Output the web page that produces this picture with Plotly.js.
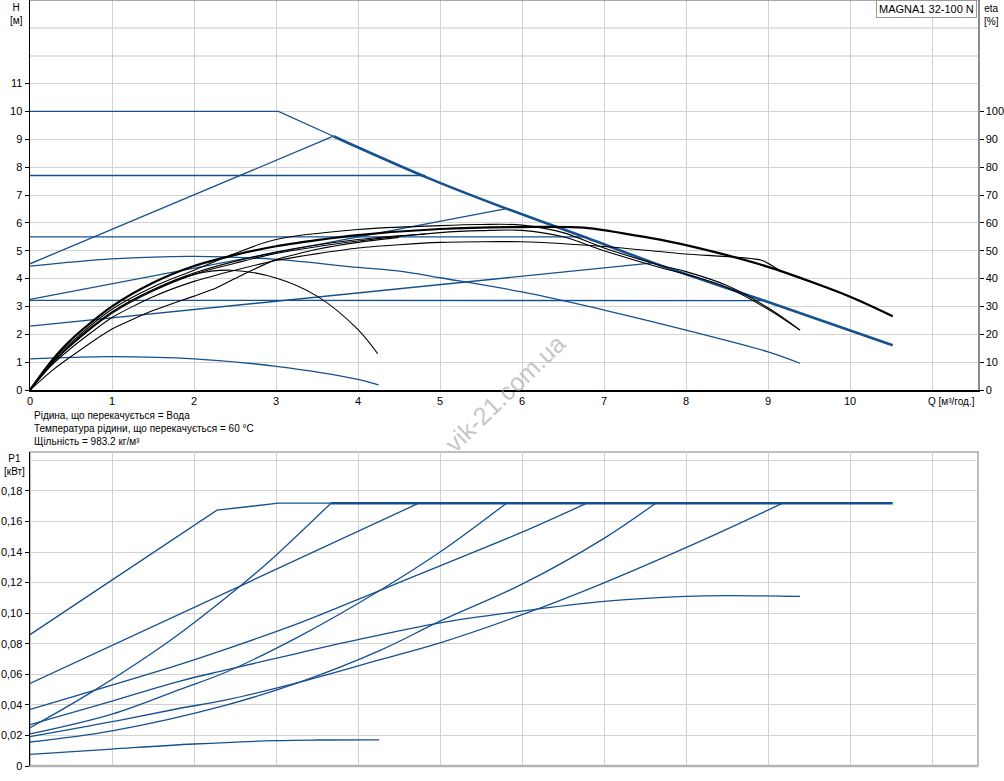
<!DOCTYPE html>
<html><head><meta charset="utf-8">
<script src="https://cdn.plot.ly/plotly-3.0.1.min.js"></script>
<style>html,body{margin:0;padding:0;background:#fff}#chart{width:1004px;height:781px}</style>
</head><body><div id="chart"></div>
<script>
// ---------- Top plot: H-Q curves (H in m) ----------
const qMax   = [0, 3.03, 3.7, 3.9, 4.88, 5.81, 6.77, 7.68, 9.0, 10.52];
const hMax   = [10, 10, 9.11, 8.84, 7.58, 6.51, 5.48, 4.48, 3.16, 1.61];
const qPPHigh = [0, 3.7];   const hPPHigh = [4.53, 9.11];
const qCP77  = [0, 4.82];   const hCP77  = [7.7, 7.7];
const qCP55  = [0, 6.75];   const hCP55  = [5.5, 5.5];
const qPPMid = [0, 5.81];   const hPPMid = [3.25, 6.51];
const qCP32  = [0, 8.95];   const hCP32  = [3.22, 3.21];
const qPPLow = [0, 7.6];    const hPPLow = [2.29, 4.56];
const qConst = [0, 1, 2, 3, 4, 4.51, 5, 6, 7, 8, 9, 9.39];
const hConst = [4.45, 4.71, 4.8, 4.69, 4.4, 4.27, 4.03, 3.52, 2.87, 2.15, 1.37, 0.96];
const qMin   = [0, 0.5, 1, 2, 3, 4, 4.25];
const hMin   = [1.12, 1.17, 1.2, 1.12, 0.85, 0.38, 0.18];

// ---------- Top plot: efficiency curves (eta in %) ----------
const qEtaMax = [0, 0.25, 0.5, 1, 1.5, 2, 2.5, 3, 3.5, 4, 5, 6, 6.75, 7.56, 8, 9, 10, 10.52];
const etaMax  = [0, 10, 18, 30, 38.5, 44.5, 48.5, 51.6, 53.8, 55.6, 57.8, 58.5, 58.3, 54.6, 52, 44.2, 33.5, 26.5];
const qEtaA = [0, 0.25, 0.5, 1, 1.5, 2, 2.5, 3, 4, 5, 5.5, 6, 6.5, 7, 7.68, 8, 8.5, 9, 9.39];
const etaA  = [0, 9.5, 17, 29, 37, 43, 49, 54, 57.6, 59, 59.4, 59.2, 56.5, 51, 44.8, 42.5, 37.5, 29.5, 21.5];
const qEtaB = [0, 0.25, 0.5, 1, 1.5, 2, 2.5, 3, 4, 5, 5.5, 6, 6.5, 7, 7.68, 8, 8.5, 9, 9.39];
const etaB  = [0, 9, 16, 27.5, 35.5, 41.5, 45.5, 49, 53.5, 56.5, 57.2, 57.3, 55, 50, 44, 41.5, 36.8, 29, 21.5];
const qEtaCP32 = [0, 0.25, 0.5, 1, 1.5, 2, 2.5, 3, 4, 5, 6, 7, 8, 8.92, 9.17, 10, 10.52];
const etaCP32  = [0, 8.5, 15, 26, 33.5, 39, 43, 46.5, 51, 53, 53.2, 51.5, 48.8, 46.6, 42.6, 33.5, 26.5];
const qEtaMin = [0, 0.25, 0.5, 1, 1.5, 2, 2.45, 3, 3.5, 4, 4.24];
const etaMin  = [0, 9, 16, 28, 36, 41.5, 43, 40.2, 33.7, 21.7, 13];
const qEtaKink = [0, 0.25, 0.5, 1, 1.5, 2, 2.27, 2.6, 3, 3.5, 4, 4.5];
const etaKink  = [0, 6.5, 12, 21.9, 28.5, 33.7, 36.6, 41.5, 46.8, 50.5, 53, 54.8];
const qEtaD = [0, 0.25, 0.5, 1, 1.5, 2, 3, 4, 4.82];
const etaD  = [0, 9, 16.5, 28, 36, 42, 49.5, 54, 56];

// ---------- Bottom plot: P1 curves (kW) ----------
const qPMax = [0, 2.28, 3.03, 3.67, 10.52];
const pMax  = [0.086, 0.1674, 0.172, 0.172, 0.172];
const qPPPHigh = [0, 0.77, 1.73, 2.58, 2.93, 3.67];
const pPPHigh  = [0.025, 0.049, 0.083, 0.1185, 0.1345, 0.172];
const qPCP77 = [0, 4.74];  const pCP77 = [0.054, 0.172];
const qPCP55 = [0, 1.83, 2.38, 3.29, 4.27, 5, 6, 6.79];
const pCP55  = [0.037, 0.0665, 0.0763, 0.0937, 0.115, 0.131, 0.153, 0.172];
const qPPPMid = [0, 1, 1.83, 2.38, 3.29, 4.27, 5, 5.81];
const pPPMid  = [0.021, 0.034, 0.0502, 0.0612, 0.085, 0.115, 0.14, 0.172];
const qPConst = [0, 1, 1.83, 2.38, 3.29, 3.9, 5, 6.14, 7, 8, 8.5, 9.39];
const pConst  = [0.027, 0.0425, 0.0556, 0.0627, 0.0741, 0.0815, 0.0937, 0.1024, 0.1078, 0.111, 0.1115, 0.111];
const qPCP32 = [0, 1, 1.83, 2.38, 3.29, 4.27, 5, 6, 7, 8.17, 9.18];
const pCP32  = [0.0192, 0.029, 0.0378, 0.0431, 0.0549, 0.0696, 0.0806, 0.099, 0.1199, 0.147, 0.172];
const qPPPLow = [0, 1, 2.38, 3.29, 4.27, 5, 6, 7, 7.63];
const pPPLow  = [0.0157, 0.023, 0.0397, 0.0549, 0.0757, 0.0948, 0.119, 0.149, 0.172];
const qPMin = [0, 1, 2, 3, 3.5, 4.26];
const pMin  = [0.0076, 0.0111, 0.0144, 0.0166, 0.0170, 0.0171];

// ---------- Tick labels ----------
const qTicks = [0,1,2,3,4,5,6,7,8,9,10];
const hTicks = [0,1,2,3,4,5,6,7,8,9,10,11];
const etaTicks = [0,10,20,30,40,50,60,70,80,90,100];
const pTicks = [0,0.02,0.04,0.06,0.08,0.10,0.12,0.14,0.16,0.18];
const pTickText = ['0','0,02','0,04','0,06','0,08','0,10','0,12','0,14','0,16','0,18'];

const BLUE = '#15508f';
const BLACK = '#000000';
const traces = [];
function add(x, y, color, width, xa, ya, smooth) {
  const line = {color: color, width: width};
  if (smooth) { line.shape = 'spline'; line.smoothing = smooth; }
  traces.push({x: x, y: y, type: 'scatter', mode: 'lines', xaxis: xa, yaxis: ya,
    line: line, hoverinfo: 'skip', showlegend: false});
}
// H curves
add(qMax.slice(0,3), hMax.slice(0,3), BLUE, 1.3, 'x', 'y');
add(qMax.slice(2), hMax.slice(2), BLUE, 2.6, 'x', 'y', 0.6);
add(qPPHigh, hPPHigh, BLUE, 1.3, 'x', 'y');
add(qCP77, hCP77, BLUE, 1.3, 'x', 'y');
add(qCP55, hCP55, BLUE, 1.3, 'x', 'y');
add(qPPMid, hPPMid, BLUE, 1.3, 'x', 'y');
add(qCP32, hCP32, BLUE, 1.3, 'x', 'y');
add(qPPLow, hPPLow, BLUE, 1.3, 'x', 'y');
add(qConst, hConst, BLUE, 1.3, 'x', 'y', 1);
add(qMin, hMin, BLUE, 1.3, 'x', 'y', 1);
// eta curves
add(qEtaA, etaA, BLACK, 1.1, 'x', 'y2', 1);
add(qEtaB, etaB, BLACK, 1.1, 'x', 'y2', 1);
add(qEtaCP32, etaCP32, BLACK, 1.1, 'x', 'y2', 0.6);
add(qEtaMin, etaMin, BLACK, 1.1, 'x', 'y2', 1);
add(qEtaKink, etaKink, BLACK, 1.1, 'x', 'y2', 0.5);
add(qEtaD, etaD, BLACK, 1.1, 'x', 'y2', 1);
add(qEtaMax, etaMax, BLACK, 2.2, 'x', 'y2', 0.8);
// P1 curves
add(qPMax.slice(0,4), pMax.slice(0,4), BLUE, 1.3, 'x2', 'y3');
add(qPMax.slice(3), pMax.slice(3), BLUE, 2.4, 'x2', 'y3');
add(qPPPHigh, pPPHigh, BLUE, 1.3, 'x2', 'y3', 1);
add(qPCP77, pCP77, BLUE, 1.3, 'x2', 'y3');
add(qPCP55, pCP55, BLUE, 1.3, 'x2', 'y3', 1);
add(qPPPMid, pPPMid, BLUE, 1.3, 'x2', 'y3', 1);
add(qPConst, pConst, BLUE, 1.3, 'x2', 'y3', 1);
add(qPCP32, pCP32, BLUE, 1.3, 'x2', 'y3', 1);
add(qPPPLow, pPPLow, BLUE, 1.3, 'x2', 'y3', 1);
add(qPMin, pMin, BLUE, 1.3, 'x2', 'y3', 1);

const FONT = 'Liberation Sans, Arial, sans-serif';
const GRID = '#d2d2d2';
const L = 30, R = 26, T = 0, B = 15, W = 1004, Hh = 781;
const PW = W - L - R, PH = Hh - T - B;
const px = v => (v - L) / PW;
const py = v => (Hh - B - v) / PH;

const layout = {
  width: W, height: Hh,
  margin: {l: L, r: R, t: T, b: B, pad: 0},
  paper_bgcolor: '#fff', plot_bgcolor: '#fff',
  font: {family: FONT, size: 11, color: '#000'},
  showlegend: false,
  xaxis: {domain: [0,1], anchor: 'y', range: [0, 11.56], tickmode: 'array', tickvals: qTicks,
    showgrid: true, gridcolor: GRID, gridwidth: 1, zeroline: false, showline: true,
    linecolor: '#000', linewidth: 1.5, ticks: '', tickfont: {size: 11},
    minor: {tickvals: [11], showgrid: true, gridcolor: GRID, ticks: ''}},
  yaxis: {domain: [py(390), 1], anchor: 'x', range: [0, 14], tickmode: 'array', tickvals: hTicks,
    showgrid: true, gridcolor: GRID, zeroline: false, showline: true, linecolor: '#000', linewidth: 1.5,
    ticks: 'outside', ticklen: 4, tickcolor: '#000', tickfont: {size: 11},
    minor: {tickvals: [12, 13], showgrid: true, gridcolor: '#e2e2e2', gridwidth: 2, ticks: ''}},
  yaxis2: {overlaying: 'y', side: 'right', anchor: 'x', range: [0, 140], tickmode: 'array',
    tickvals: etaTicks, showgrid: false, zeroline: false, showline: true, linecolor: '#8c8c8c',
    linewidth: 1.5, ticks: 'outside', ticklen: 4, tickcolor: '#000', tickfont: {size: 11}},
  xaxis2: {domain: [0,1], anchor: 'y3', range: [0, 11.56], tickmode: 'array',
    tickvals: [1,2,3,4,5,6,7,8,9,10,11], showticklabels: false, showgrid: true, gridcolor: GRID,
    zeroline: false, showline: false, ticks: ''},
  yaxis3: {domain: [0, py(452)], anchor: 'x2', range: [0, 0.2055], tickmode: 'array',
    tickvals: pTicks, ticktext: pTickText, showgrid: true, gridcolor: GRID, zeroline: false,
    showline: true, linecolor: '#000', linewidth: 1.5, ticks: 'outside', ticklen: 4, tickcolor: '#000',
    tickfont: {size: 11},
    minor: {tickvals: [0.20], showgrid: true, gridcolor: GRID, ticks: ''}},
  shapes: [
    {type: 'line', xref: 'x domain', yref: 'y domain', x0: 0, x1: 1, y0: 1, y1: 1,
     line: {color: '#8c8c8c', width: 1.5}},
    {type: 'rect', xref: 'x2 domain', yref: 'y3 domain', x0: 0, x1: 1, y0: 0, y1: 1,
     line: {color: '#a8a8a8', width: 1.5}, layer: 'below'},
    {type: 'line', xref: 'x2 domain', yref: 'y3 domain', x0: 0, x1: 1, y0: 0, y1: 0,
     line: {color: '#b4b4b4', width: 2.5}}
  ],
  annotations: [
    {xref: 'paper', yref: 'paper', x: px(16), y: py(0), xanchor: 'center', yanchor: 'top',
     text: 'H<br>[м]', showarrow: false, font: {size: 10}, align: 'center'},
    {xref: 'paper', yref: 'paper', x: px(992), y: py(1), xanchor: 'center', yanchor: 'top',
     text: 'eta<br>[%]', showarrow: false, font: {size: 10}, align: 'center'},
    {xref: 'paper', yref: 'paper', x: px(14), y: py(451), xanchor: 'center', yanchor: 'top',
     text: 'P1<br>[кВт]', showarrow: false, font: {size: 10}, align: 'center'},
    {xref: 'paper', yref: 'paper', x: px(926), y: py(401), xanchor: 'left', yanchor: 'middle',
     text: 'Q [м³/год.]', showarrow: false, font: {size: 10}},
    {xref: 'paper', yref: 'paper', x: px(32), y: py(408), xanchor: 'left', yanchor: 'top',
     text: 'Рідина, що перекачується = Вода<br>Температура рідини, що перекачується = 60 °C<br>Щільність = 983.2 кг/м³',
     showarrow: false, font: {size: 10}, align: 'left'},
    {xref: 'paper', yref: 'paper', x: px(977), y: py(0), xanchor: 'right', yanchor: 'top',
     text: 'MAGNA1 32-100 N', showarrow: false, font: {size: 11}, bgcolor: '#fff',
     bordercolor: '#9a9a9a', borderwidth: 1, borderpad: 2},
    {xref: 'paper', yref: 'paper', x: px(505), y: py(393), xanchor: 'center', yanchor: 'middle',
     text: 'vik-21.com.ua', showarrow: false, textangle: -44,
     font: {size: 25, color: 'rgba(160,160,160,0.6)'}}
  ]
};

Plotly.newPlot('chart', traces, layout, {staticPlot: true, displayModeBar: false});
</script>
</body></html>
